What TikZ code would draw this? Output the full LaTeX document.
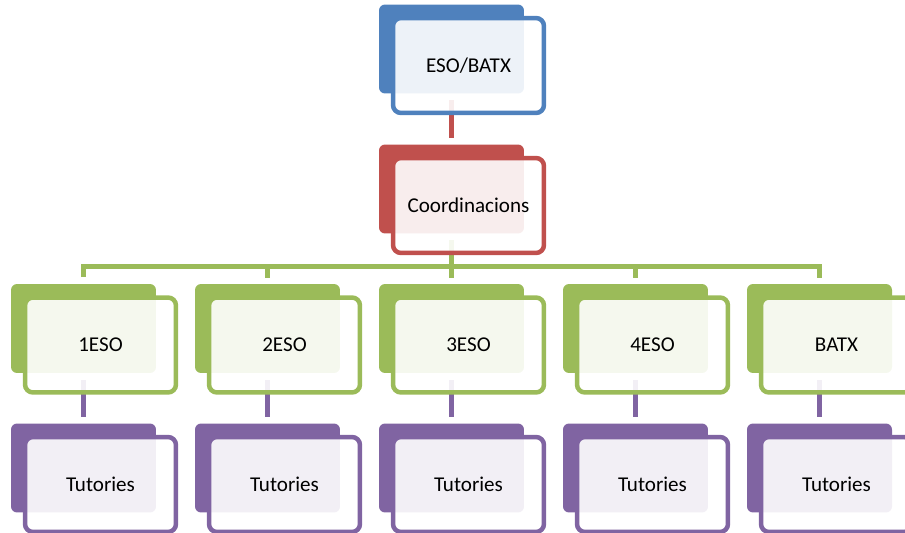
\documentclass[tikz,border=0pt]{standalone}
\usepackage{fontspec}
\setmainfont{Carlito}
\definecolor{ofBlue}{HTML}{4F81BD}
\definecolor{ofRed}{HTML}{C0504D}
\definecolor{ofGreen}{HTML}{9BBB59}
\definecolor{ofPurple}{HTML}{8064A2}
\begin{document}
\begin{tikzpicture}
        [
        x=0.02cm, y=-0.02cm,
        Back/.style={rectangle, rounded corners=0.12cm, minimum width=2.9cm, minimum height=1.78cm},
        Front/.style={rectangle, rounded corners=0.16cm, line width=0.09cm, fill=white, fill opacity=0.9, text opacity=1, minimum width=3.02cm, minimum height=1.9cm, font=\fontsize{12}{14}\selectfont},
        Link/.style={line width=0.1cm, shorten <=0.13cm, shorten >=0.12cm},
        ]

        \useasboundingbox (0,0) rectangle (905,533);

        % back cards
        \node[Back, fill=ofBlue] (n1) at (451.5,49){};
        \node[Back, fill=ofRed] (n2) at (451.5,189){};
        \node[Back, fill=ofGreen] (n3) at (83.5,328.5){};
        \node[Back, fill=ofGreen] (n4) at (267.5,328.5){};
        \node[Back, fill=ofGreen] (n5) at (451.5,328.5){};
        \node[Back, fill=ofGreen] (n6) at (635.5,328.5){};
        \node[Back, fill=ofGreen] (n7) at (819.5,328.5){};
        \node[Back, fill=ofPurple] (n8) at (83.5,468){};
        \node[Back, fill=ofPurple] (n9) at (267.5,468){};
        \node[Back, fill=ofPurple] (n10) at (451.5,468){};
        \node[Back, fill=ofPurple] (n11) at (635.5,468){};
        \node[Back, fill=ofPurple] (n12) at (819.5,468){};

        % links
        \coordinate (bus) at (0,267);
        \draw[Link, ofRed] (n1.south) to (n2.north);
        \draw[Link, ofGreen] (n2.south) to (n5.north);
        \draw[Link, ofGreen] (n3.north) -- (n3.north |- bus) -- (n7.north |- bus) -- (n7.north);
        \draw[Link, ofGreen, shorten <=0cm] (n4.north |- bus) -- (n4.north);
        \draw[Link, ofGreen, shorten <=0cm] (n6.north |- bus) -- (n6.north);
        \draw[Link, ofPurple] (n3.south) to (n8.north);
        \draw[Link, ofPurple] (n4.south) to (n9.north);
        \draw[Link, ofPurple] (n5.south) to (n10.north);
        \draw[Link, ofPurple] (n6.south) to (n11.north);
        \draw[Link, ofPurple] (n7.south) to (n12.north);

        % front cards
        \node[Front, draw=ofBlue] (f1) at (468.5,65.5){ESO/BATX};
        \node[Front, draw=ofRed] (f2) at (468.5,205.5){Coordinacions};
        \node[Front, draw=ofGreen] (f3) at (100.5,345){1ESO};
        \node[Front, draw=ofGreen] (f4) at (284.5,345){2ESO};
        \node[Front, draw=ofGreen] (f5) at (468.5,345){3ESO};
        \node[Front, draw=ofGreen] (f6) at (652.5,345){4ESO};
        \node[Front, draw=ofGreen] (f7) at (836.5,345){BATX};
        \node[Front, draw=ofPurple] (f8) at (100.5,484.5){Tutories};
        \node[Front, draw=ofPurple] (f9) at (284.5,484.5){Tutories};
        \node[Front, draw=ofPurple] (f10) at (468.5,484.5){Tutories};
        \node[Front, draw=ofPurple] (f11) at (652.5,484.5){Tutories};
        \node[Front, draw=ofPurple] (f12) at (836.5,484.5){Tutories};

\end{tikzpicture}
\end{document}
